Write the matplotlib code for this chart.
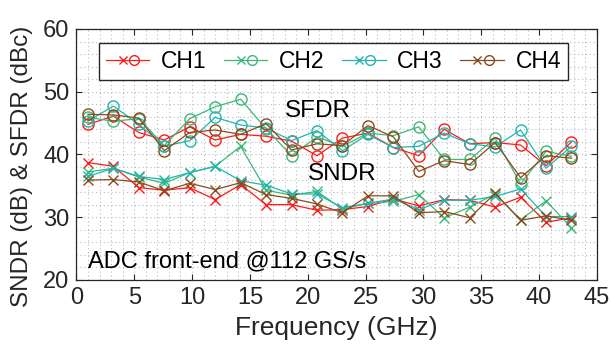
import matplotlib
matplotlib.use("Agg")
import matplotlib.pyplot as plt
from matplotlib.lines import Line2D
from matplotlib.legend_handler import HandlerBase
from matplotlib.ticker import MultipleLocator

plt.rcParams['font.family'] = ['Liberation Sans', 'DejaVu Sans']

freq = [1.0, 3.2, 5.4, 7.6, 9.8, 12.0, 14.2, 16.4, 18.6, 20.8,
        23.0, 25.2, 27.4, 29.6, 31.8, 34.0, 36.2, 38.4, 40.6, 42.8]

channels = ["CH1", "CH2", "CH3", "CH4"]
colors = ["#FF1A1A", "#3CB878", "#22B5AE", "#8B4A1C"]

sfdr_ch1 = [44.8, 46.1, 43.5, 42.3, 44.4, 42.3, 43.2, 42.9, 42.1, 39.8,
            42.6, 43.4, 41.1, 39.8, 44.0, 41.7, 41.9, 41.5, 38.2, 42.0]
sfdr_ch2 = [45.9, 45.3, 45.7, 41.4, 45.7, 47.6, 48.8, 44.1, 39.8, 42.8,
            41.3, 43.4, 43.0, 44.4, 39.2, 39.2, 42.6, 35.3, 40.5, 39.7]
sfdr_ch3 = [45.3, 47.7, 44.8, 41.3, 42.2, 45.9, 44.7, 44.2, 42.2, 43.8,
            40.6, 43.2, 41.1, 41.3, 43.4, 41.7, 41.2, 43.9, 37.8, 41.3]
sfdr_ch4 = [46.4, 46.3, 45.8, 40.6, 43.5, 43.9, 43.2, 44.9, 40.7, 41.7,
            41.4, 44.6, 42.8, 37.3, 39.0, 38.4, 41.9, 36.3, 39.8, 39.4]

sndr_ch1 = [38.7, 38.1, 34.7, 34.3, 34.7, 32.8, 35.2, 32.0, 32.0, 31.1,
            31.2, 31.7, 32.9, 31.8, 32.8, 32.7, 31.6, 33.2, 29.2, 29.9]
sndr_ch2 = [37.2, 37.8, 36.4, 35.4, 37.1, 38.1, 41.3, 34.3, 33.5, 34.1,
            31.3, 32.2, 32.5, 33.6, 29.9, 31.6, 33.7, 29.6, 32.6, 28.3]
sndr_ch3 = [36.5, 37.8, 36.5, 36.0, 37.1, 38.1, 35.8, 35.1, 33.7, 33.7,
            31.5, 32.2, 32.9, 31.2, 32.7, 32.7, 33.3, 34.5, 30.1, 30.1]
sndr_ch4 = [35.9, 36.0, 35.6, 34.2, 35.4, 34.4, 35.5, 33.6, 33.0, 32.1,
            30.7, 33.4, 33.4, 30.7, 30.9, 29.9, 33.8, 29.5, 30.2, 29.5]

sfdr = [sfdr_ch1, sfdr_ch2, sfdr_ch3, sfdr_ch4]
sndr = [sndr_ch1, sndr_ch2, sndr_ch3, sndr_ch4]

fig = plt.figure(figsize=(6.11, 3.49), dpi=100)
ax = fig.add_axes([0.125, 0.198, 0.852, 0.719])

ax.set_xlim(0, 45)
ax.set_ylim(20, 60)
ax.xaxis.set_major_locator(MultipleLocator(5))
ax.yaxis.set_major_locator(MultipleLocator(10))
ax.xaxis.set_minor_locator(MultipleLocator(1))
ax.yaxis.set_minor_locator(MultipleLocator(2))
ax.grid(which='both', color='#BBBBBB', linestyle=(0, (1, 2.5)), linewidth=0.8)
ax.set_axisbelow(True)

for c, s1, s2 in zip(colors, sfdr, sndr):
    ax.plot(freq, s1, color=c, lw=0.9, marker='o', ms=8, mfc='none', mew=1.0)
    ax.plot(freq, s2, color=c, lw=0.9, marker='x', ms=7, mew=1.0)

ax.tick_params(which='major', direction='in', length=4, width=0.8,
               top=True, right=True, labelsize=17, colors='#262626', pad=5)
ax.tick_params(which='minor', length=0, top=True, right=True)
for sp in ax.spines.values():
    sp.set_color('#262626')
    sp.set_linewidth(0.9)

ax.set_xlabel("Frequency (GHz)", fontsize=19, color='#262626', labelpad=5)
ax.set_ylabel("SNDR (dB) & SFDR (dBc)", fontsize=17.5, color='#262626')
ax.yaxis.set_label_coords(-0.084, 0.454)

ax.text(18.0, 46.9, "SFDR", fontsize=17.5, va='center', ha='left', color='black')
ax.text(20.0, 36.9, "SNDR", fontsize=17.5, va='center', ha='left', color='black')
ax.text(1.0, 22.9, "ADC front-end @112 GS/s", fontsize=17, va='center', ha='left', color='black')


class HandlerXO(HandlerBase):
    def create_artists(self, legend, orig_handle, xdescent, ydescent,
                       width, height, fontsize, trans):
        c = orig_handle.get_color()
        y = height / 2 - ydescent
        x0 = -xdescent
        line = Line2D([x0, x0 + width], [y, y], color=c, lw=0.9)
        mx = Line2D([x0 + width * 0.39], [y], marker='x', ms=6, mew=1.0,
                    color=c, ls='none')
        mo = Line2D([x0 + width * 0.65], [y], marker='o', ms=7, mew=1.0,
                    mfc='none', color=c, ls='none')
        for a in (line, mx, mo):
            a.set_transform(trans)
        return [line, mx, mo]


handles = [Line2D([], [], color=c) for c in colors]
leg = ax.legend(handles, channels, handler_map={Line2D: HandlerXO()},
                ncol=4, loc='lower left', mode='expand',
                bbox_to_anchor=(0.043, 0.797, 0.901, 0.151),
                fontsize=16.5, frameon=True, fancybox=False, framealpha=1,
                edgecolor='#262626', handlelength=1.9, handletextpad=0.5,
                columnspacing=0.8, borderpad=0.3, borderaxespad=0)
leg.get_frame().set_linewidth(1.0)

fig.savefig("out.png", dpi=100)
